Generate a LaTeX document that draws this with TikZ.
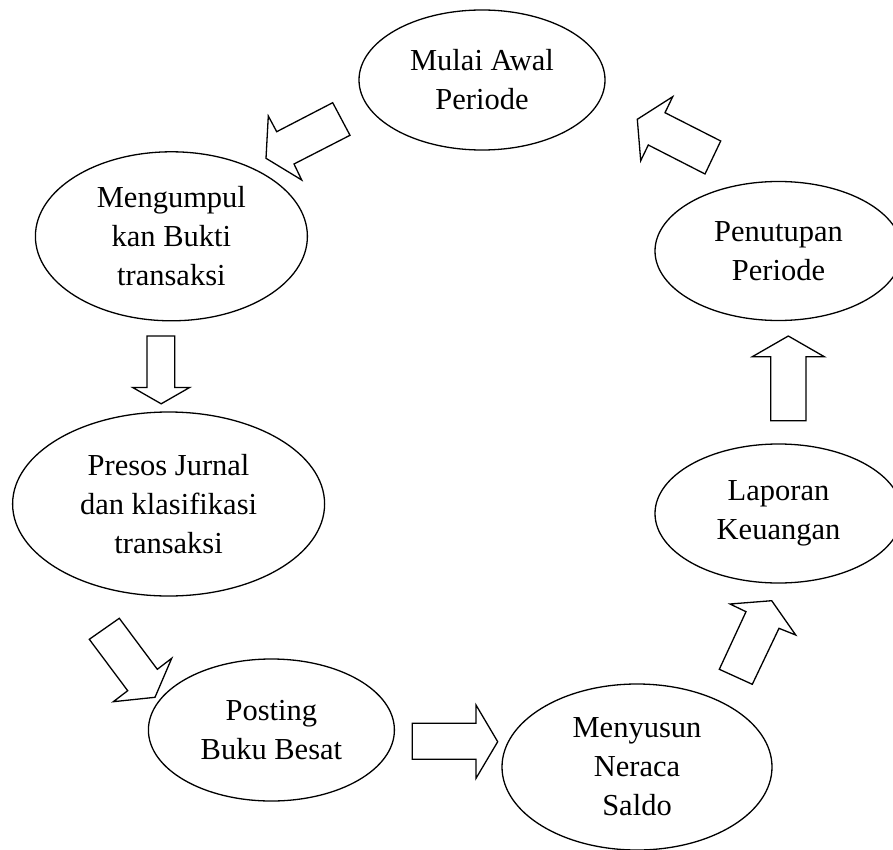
\documentclass[tikz,border=0pt]{standalone}
\usepackage{fontspec}
\setmainfont{Liberation Serif}
\usetikzlibrary{shapes.geometric}
\begin{document}
\begin{tikzpicture}[x=1pt,y=-1pt,
  stage/.style={draw=black, line width=1.3pt, ellipse, inner sep=0pt, align=center,
    font=\fontsize{30.5}{39}\selectfont},
  blockarrow/.style={draw=black, line width=1.3pt, fill=white, line join=miter}]
\useasboundingbox (0,0) rectangle (893,850);
\clip (0,0) rectangle (893,850);
% stages
\node[stage, minimum width=246pt, minimum height=140pt] (mulai) at (482,80) {Mulai Awal\\Periode};
\node[stage, minimum width=272pt, minimum height=169pt] (kumpul) at (171.4,236.3) {Mengumpul\\kan Bukti\\transaksi};
\node[stage, minimum width=312pt, minimum height=184pt] (jurnal) at (168.6,504) {Presos Jurnal\\dan klasifikasi\\transaksi};
\node[stage, minimum width=246pt, minimum height=142pt] (posting) at (271.4,730) {Posting\\Buku Besat};
\node[stage, minimum width=270pt, minimum height=166pt] (neraca) at (637,767) {Menyusun\\Neraca\\Saldo};
\node[stage, minimum width=247pt, minimum height=139pt] (laporan) at (778.5,513.5) {Laporan\\Keuangan};
\node[stage, minimum width=247pt, minimum height=139pt] (tutup) at (778.5,251) {Penutupan\\Periode};
% block arrows
\draw[blockarrow] (332.7,102.7) -- (350,135.3) -- (294,164) -- (301.7,180) -- (266,158.3) -- (268.3,116) -- (276.7,131.7) -- cycle;
\draw[blockarrow] (147,336) -- (174.8,336) -- (174.8,387.5) -- (189.6,387.5) -- (161.2,403.8) -- (132.7,387.5) -- (147,387.5) -- cycle;
\draw[blockarrow] (89.3,639.3) -- (119.3,618.3) -- (157.3,669.3) -- (171.7,658.3) -- (155,697.3) -- (113.3,701.7) -- (127.7,690.7) -- cycle;
\draw[blockarrow] (412.3,723.3) -- (476,723.3) -- (476,705) -- (497.7,741.7) -- (476,778.3) -- (476,759.3) -- (412.3,759.3) -- cycle;
\draw[blockarrow] (719.3,669.3) -- (752.3,684.3) -- (779,628.3) -- (795.7,635) -- (771.7,600.7) -- (730,604) -- (746,611.7) -- cycle;
\draw[blockarrow] (788.3,336) -- (824.3,356.7) -- (806,356.7) -- (806,420.7) -- (770.7,420.7) -- (770.7,356.7) -- (752.3,356.7) -- cycle;
\draw[blockarrow] (637.3,119.3) -- (672.7,96.7) -- (665,112.7) -- (720.7,141) -- (705,174) -- (648.3,145) -- (640.7,160.7) -- cycle;
\end{tikzpicture}
\end{document}
